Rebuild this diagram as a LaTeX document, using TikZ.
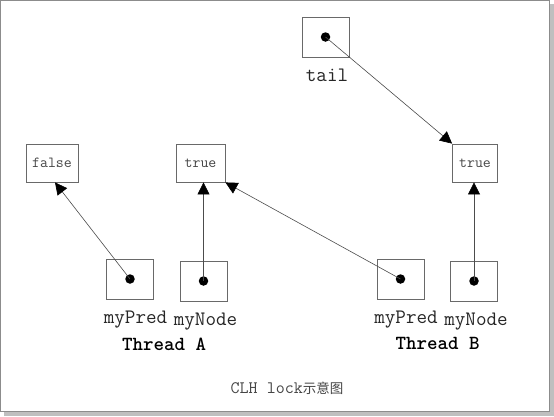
\documentclass[tikz,border=0pt]{standalone}
\usepackage{fontspec}
\usepackage{tikz}
\usetikzlibrary{arrows.meta,positioning}
\newfontfamily\cjkf{Noto Sans CJK SC}
\definecolor{boxgray}{RGB}{105,105,105}
\definecolor{txtgray}{RGB}{70,70,70}

\begin{document}
\begin{tikzpicture}[x=1pt, y=-1pt, thin,
    box/.style = {draw=boxgray, line width=0.8pt, inner sep=0pt, minimum width=47pt, minimum height=40pt},
    flag/.style = {draw=boxgray, line width=0.8pt, inner sep=0pt, minimum height=38pt, text=txtgray, font=\ttfamily\fontsize{15.4}{17}\selectfont},
    ptr/.style = {circle, fill=black, inner sep=0pt, minimum size=9.5pt},
    lbl/.style = {anchor=base, inner sep=0pt, text=black!85, font=\ttfamily\fontsize{20.5}{22}\selectfont},
    thr/.style = {anchor=base, inner sep=0pt, font=\ttfamily\bfseries\fontsize{20}{22}\selectfont},
    link/.style = {draw=black!70, line width=0.6pt, -{Triangle[length=12pt, width=12pt, black]}}]
    \useasboundingbox (0,0) rectangle (554,416);
    % frame with shadow
    \fill[black!25] (4,4) rectangle (554,416);
    \filldraw[fill=white, draw=black!45, line width=0.8pt] (0.5,0.5) rectangle (549.5,411.5);
    % flag boxes
    \node[flag, minimum width=52pt] (falseA) at (52,163) {false};
    \node[flag, minimum width=49pt] (trueA) at (200.5,163) {true};
    \node[flag, minimum width=45pt] (trueB) at (475,163) {true};
    % pointer boxes
    \node[box] (tailbox) at (325.5,37) {};
    \node[box] (predA) at (130,279) {};
    \node[box] (nodeA) at (203.5,281) {};
    \node[box] (predB) at (400.5,279) {};
    \node[box] (nodeB) at (474,281) {};
    \node[ptr] (tailp) at (tailbox.center) {};
    \node[ptr] (predAp) at (predA.center) {};
    \node[ptr] (nodeAp) at (nodeA.center) {};
    \node[ptr] (predBp) at (predB.center) {};
    \node[ptr] (nodeBp) at (nodeB.center) {};
    % labels
    \node[lbl] (tailL) at (327,81) {tail};
    \node[lbl] (predAL) at (135.5,323) {myPred};
    \node[lbl] (nodeAL) at (205.5,325) {myNode};
    \node[lbl] (predBL) at (406,323) {myPred};
    \node[lbl] (nodeBL) at (476,325) {myNode};
    \node[thr] (thrA) at (164,350) {Thread A};
    \node[thr] (thrB) at (437.5,349) {Thread B};
    \node[anchor=base, inner sep=0pt, text=txtgray] (cap) at (287,393)
        {{\ttfamily\fontsize{17.5}{20}\selectfont CLH lock}{\cjkf\fontsize{13.5}{16}\selectfont 示意图}};
    % links
    \draw[link] (tailp.center) -- (trueB.north west);
    \draw[link] (predAp.center) -- ([xshift=3pt]falseA.south);
    \draw[link] (nodeAp.center) -- (trueA.south -| nodeAp);
    \draw[link] (predBp.center) -- (trueA.south east);
    \draw[link] (nodeBp.center) -- (trueB.south -| nodeBp);
\end{tikzpicture}
\end{document}
